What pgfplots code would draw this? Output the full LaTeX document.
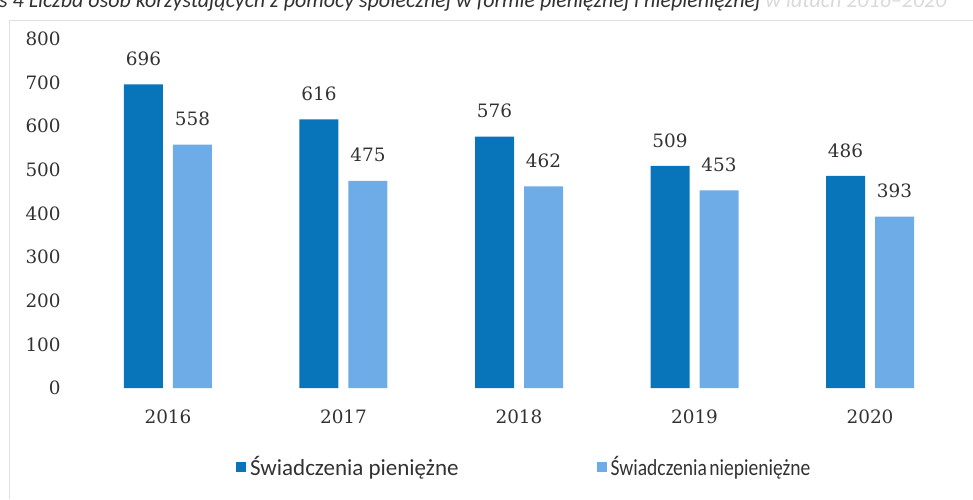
\documentclass[border=0pt]{standalone}
\usepackage{graphicx}
\usepackage{pgfplots}
\pgfplotsset{compat=1.18}
\usepackage{fontspec}
\setmainfont{Carlito}
\newfontfamily\numfont{DejaVu Serif}
\definecolor{darkb}{RGB}{8,116,186}
\definecolor{lightb}{RGB}{110,172,232}
\definecolor{txt}{RGB}{50,50,50}
\begin{document}
\begin{tikzpicture}[x=1pt,y=1pt]
\useasboundingbox (0,0) rectangle (973,499);
\clip (0,0) rectangle (973,499);
% faint frame of the scanned chart area
\draw[gray!25, line width=0.8pt] (9,0) -- (9,479) -- (973,479);
% cut-off title
\node[anchor=base west, inner sep=0pt, font=\itshape\fontsize{22}{24}\selectfont, text=txt] at (-58,491)
  {Wykres 4 Liczba osób korzystających z pomocy społecznej w formie pieniężnej i niepieniężnej \textcolor{gray!30}{w latach 2016--2020}};
\begin{axis}[
  at={(80.2pt,111pt)}, anchor=south west,
  scale only axis, width=877.6pt, height=349pt,
  xmin=-0.5, xmax=4.5, ymin=0, ymax=800,
  axis line style={draw=none},
  major tick length=0pt,
  ytick={0,100,...,800},
  xtick={0,1,2,3,4},
  xticklabels={2016,2017,2018,2019,2020},
  /pgf/number format/assume math mode=true,
  ticklabel style={font=\numfont\fontsize{18.4}{20}\selectfont, text=txt},
  yticklabel style={xshift=-16pt},
  xticklabel style={yshift=-18pt},
  ybar, bar width=39pt,
  nodes near coords,
  every node near coord/.append style={font=\numfont\fontsize{18.4}{20}\selectfont, text=txt, yshift=15pt},
  legend style={at={(0.506,-0.226)}, anchor=center, draw=none, fill=none,
     legend columns=2, font=\fontsize{23}{24}\selectfont, text=txt,
     /tikz/every odd column/.append style={column sep=0pt},
     /tikz/every even column/.append style={column sep=136pt}},
  legend image code/.code={\fill[#1] (0pt,-5pt) rectangle (10pt,5pt); \path (0pt,0pt) -- (12pt,0pt);},
]
\addplot[fill=darkb, draw=none, bar shift=-24.5pt] coordinates {(0,696) (1,616) (2,576) (3,509) (4,486)};
\addplot[fill=lightb, draw=none, bar shift=24.5pt] coordinates {(0,558) (1,475) (2,462) (3,453) (4,393)};
\legend{Świadczenia pieniężne, \scalebox{0.85}[1]{Świadczenia\hspace{3pt}niepieniężne}}
\end{axis}
\end{tikzpicture}
\end{document}
